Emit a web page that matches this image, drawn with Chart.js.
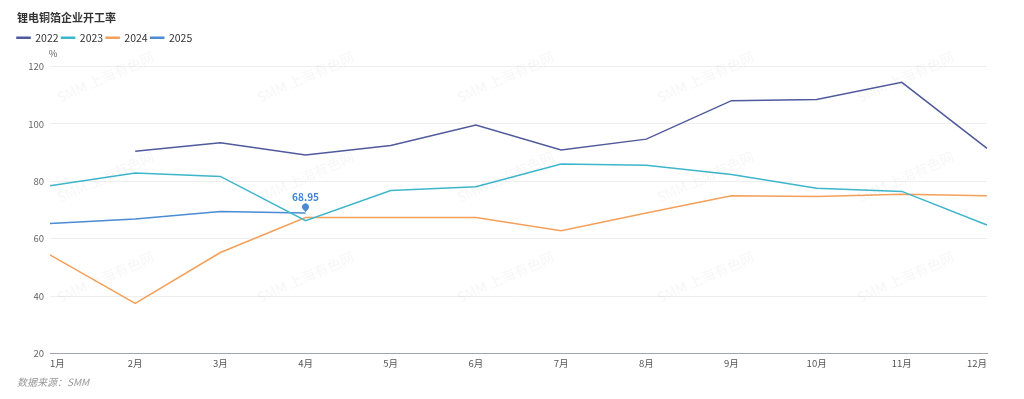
<!DOCTYPE html>
<html>
<head>
<meta charset="utf-8">
<script src="https://cdn.jsdelivr.net/npm/chart.js@4/dist/chart.umd.min.js"></script>
<style>
html,body{margin:0;padding:0;background:#fff;}
#wrap{position:relative;width:1024px;height:399px;}
</style>
</head>
<body>
<div id="wrap"><canvas id="c" width="1024" height="399"></canvas></div>
<script>
const months = ['1月','2月','3月','4月','5月','6月','7月','8月','9月','10月','11月','12月'];
const s2022 = [null, 90.5, 93.4, 89.2, 92.5, 99.6, 90.9, 94.7, 108.1, 108.5, 114.5, 91.5];
const s2023 = [78.5, 82.9, 81.7, 66.3, 76.8, 78.1, 86.0, 85.6, 82.4, 77.6, 76.5, 64.8];
const s2024 = [54.4, 37.5, 55.2, 67.4, 67.4, 67.4, 62.8, 69.0, 75.0, 74.7, 75.5, 75.0];
const s2025 = [65.3, 66.9, 69.5, 68.95];
const seriesNames = ['2022','2023','2024','2025'];
const titleText = '锂电铜箔企业开工率';
const sourceText = '数据来源：SMM';
const unitText = '%';
const watermarkText = 'SMM 上海有色网';

const FONT = "'Noto Sans CJK SC', 'Noto Sans', sans-serif";
const colors = ['#4f5a9d', '#3db6cc', '#f4a05a', '#4a8bd4'];

const extras = {
  id: 'extras',
  afterDraw(chart) {
    const ctx = chart.ctx;
    ctx.save();
    // title
    ctx.fillStyle = '#333';
    ctx.font = 'bold 11px ' + FONT;
    ctx.textBaseline = 'middle';
    ctx.textAlign = 'left';
    ctx.fillText(titleText, 17, 18);
    // unit
    ctx.fillStyle = '#666';
    ctx.font = '9.5px ' + FONT;
    ctx.textAlign = 'center';
    ctx.fillText(unitText, 53, 53);
    // source
    ctx.fillStyle = '#999';
    ctx.font = 'italic 10px ' + FONT;
    ctx.textAlign = 'left';
    ctx.fillText(sourceText, 17, 382);
    // marker pin on last 2025 point
    const meta = chart.getDatasetMeta(3);
    const idx = s2025.length - 1;
    const pt = meta.data[idx];
    if (pt) {
      const x = pt.x, y = pt.y;
      ctx.fillStyle = colors[3];
      ctx.beginPath();
      ctx.arc(x, y - 6, 3.5, Math.PI * 0.8, Math.PI * 2.2);
      ctx.lineTo(x, y - 1);
      ctx.closePath();
      ctx.fill();
      ctx.font = 'bold 10px ' + FONT;
      ctx.textAlign = 'center';
      ctx.fillStyle = '#3f84d6';
      ctx.fillText(String(s2025[idx]), x, y - 16);
    }
    // watermark
    ctx.fillStyle = 'rgba(0,0,0,0.04)';
    ctx.font = '14px ' + FONT;
    ctx.textAlign = 'left';
    ctx.textBaseline = 'alphabetic';
    for (let ry = 103; ry <= 303; ry += 100) {
      for (let rx = 60; rx <= 860; rx += 200) {
        ctx.save();
        ctx.translate(rx, ry);
        ctx.rotate(-24 * Math.PI / 180);
        ctx.fillText(watermarkText, 0, 0);
        ctx.restore();
      }
    }
    ctx.restore();
  }
};

const mk = (label, data, color) => ({
  label, data,
  borderColor: color,
  backgroundColor: color,
  borderWidth: 1.5,
  pointRadius: 0,
  pointHoverRadius: 0,
  tension: 0,
  spanGaps: false
});

new Chart(document.getElementById('c'), {
  type: 'line',
  data: {
    labels: months,
    datasets: [
      mk(seriesNames[0], s2022, colors[0]),
      mk(seriesNames[1], s2023, colors[1]),
      mk(seriesNames[2], s2024, colors[2]),
      mk(seriesNames[3], s2025, colors[3])
    ]
  },
  options: {
    responsive: false,
    animation: false,
    layout: { padding: { top: 29.5, left: 14, right: 37, bottom: 26 } },
    plugins: {
      tooltip: { enabled: false },
      title: { display: false },
      subtitle: {
        display: true,
        text: '',
        weight: 500,
        position: 'top',
        font: { size: 10 },
        padding: { top: 1.5, bottom: 0 }
      },
      legend: {
        display: true,
        position: 'top',
        align: 'start',
        labels: {
          boxWidth: 13,
          boxHeight: 1,
          padding: 3,
          color: '#333',
          font: { family: FONT, size: 10.5 }
        }
      }
    },
    scales: {
      x: {
        type: 'category',
        offset: false,
        grid: { display: false, drawTicks: false },
        border: { display: true, color: '#a0a4ab', width: 1 },
        ticks: {
          align: 'inner',
          maxRotation: 0,
          autoSkip: false,
          padding: 4,
          color: '#555',
          font: { family: FONT, size: 9.5 }
        }
      },
      y: {
        min: 20, max: 120,
        grid: { color: '#eeeeee', drawTicks: false },
        border: { display: false },
        ticks: {
          stepSize: 20,
          padding: 6,
          color: '#666',
          font: { family: FONT, size: 9.5 }
        },
        afterFit(scale) { scale.width = 36; }
      }
    }
  },
  plugins: [extras]
});
</script>
</body>
</html>
